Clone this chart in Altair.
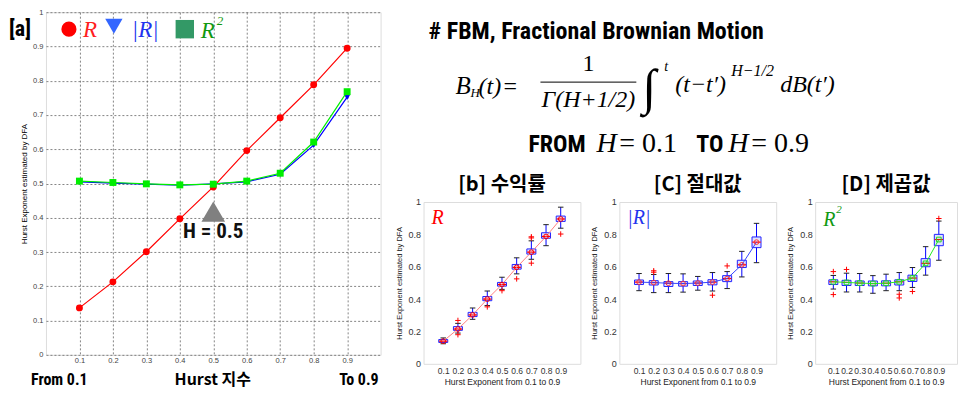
import altair as alt
import pandas as pd

# ---------------- data ----------------
H = [0.1, 0.2, 0.3, 0.4, 0.5, 0.6, 0.7, 0.8, 0.9]
Y_TICKS_MAIN = [0, 0.1, 0.2, 0.3, 0.4, 0.5, 0.6, 0.7, 0.8, 0.9, 1]
Y_TICKS_SMALL = [0, 0.2, 0.4, 0.6, 0.8, 1]

# panel [a]: mean DFA estimate per series
R_MEAN = [0.137, 0.213, 0.301, 0.397, 0.490, 0.596, 0.692, 0.788, 0.895]
ABS_MEAN = [0.505, 0.501, 0.498, 0.495, 0.499, 0.505, 0.527, 0.612, 0.752]
SQ_MEAN = [0.507, 0.503, 0.499, 0.496, 0.498, 0.507, 0.530, 0.621, 0.768]
ANNOT_H = [0.5]
ANNOT_TRI_Y = [0.418]
ANNOT_TXT_Y = [0.359]

# panel [b] returns R
B_LO = [0.124, 0.190, 0.275, 0.360, 0.460, 0.556, 0.646, 0.730, 0.838]
B_Q1 = [0.132, 0.207, 0.292, 0.390, 0.480, 0.585, 0.678, 0.776, 0.880]
B_MED = [0.140, 0.215, 0.302, 0.400, 0.490, 0.596, 0.690, 0.787, 0.895]
B_Q3 = [0.150, 0.230, 0.318, 0.416, 0.503, 0.614, 0.710, 0.810, 0.913]
B_HI = [0.160, 0.250, 0.345, 0.450, 0.535, 0.655, 0.760, 0.860, 0.968]
B_OUT_H = [0.2, 0.2, 0.4, 0.5, 0.6, 0.7, 0.7, 0.7, 0.9]
B_OUT_V = [0.268, 0.180, 0.352, 0.452, 0.525, 0.785, 0.778, 0.622, 0.802]

# panel [c] |R|
C_LO = [0.452, 0.440, 0.440, 0.443, 0.455, 0.450, 0.465, 0.537, 0.625]
C_Q1 = [0.490, 0.487, 0.478, 0.480, 0.484, 0.488, 0.508, 0.595, 0.718]
C_MED = [0.505, 0.502, 0.498, 0.496, 0.499, 0.505, 0.527, 0.612, 0.752]
C_Q3 = [0.518, 0.514, 0.508, 0.508, 0.512, 0.520, 0.545, 0.640, 0.784]
C_HI = [0.558, 0.552, 0.558, 0.556, 0.540, 0.564, 0.570, 0.695, 0.868]
C_OUT_H = [0.2, 0.2, 0.6, 0.7]
C_OUT_V = [0.575, 0.566, 0.424, 0.605]

# panel [d] R^2
D_LO = [0.462, 0.444, 0.444, 0.436, 0.452, 0.452, 0.472, 0.548, 0.640]
D_Q1 = [0.490, 0.484, 0.484, 0.482, 0.482, 0.487, 0.509, 0.600, 0.730]
D_MED = [0.507, 0.503, 0.499, 0.496, 0.498, 0.507, 0.530, 0.621, 0.768]
D_Q3 = [0.519, 0.516, 0.512, 0.512, 0.513, 0.519, 0.548, 0.650, 0.800]
D_HI = [0.546, 0.560, 0.558, 0.545, 0.554, 0.564, 0.595, 0.724, 0.882]
D_OUT_H = [0.1, 0.1, 0.2, 0.6, 0.6, 0.7, 0.9]
D_OUT_V = [0.570, 0.428, 0.583, 0.430, 0.407, 0.447, 0.898]

# ---------------- fonts ----------------
NARROW = "Roboto Condensed, Roboto, sans-serif"
SERIF = "Liberation Serif, DejaVu Serif, serif"
SANS = "Liberation Sans, Arial, sans-serif"
KR = "Noto Sans CJK KR, sans-serif"

ONE = pd.DataFrame({"k": [0]})


def txt(text, x, y, size, color="black", font=SANS, weight="normal",
        style="normal", align="left", baseline="middle"):
    return alt.Chart(ONE).mark_text(
        text=text, fontSize=size, color=color, font=font, fontWeight=weight,
        fontStyle=style, align=align, baseline=baseline
    ).encode(x=alt.value(x), y=alt.value(y))


def sym(shape, x, y, size, color):
    return alt.Chart(ONE).mark_point(
        shape=shape, size=size, filled=True, color=color, opacity=1
    ).encode(x=alt.value(x), y=alt.value(y))


# ---------------- panel [a] ----------------
xa = alt.Axis(values=H, format=".1f", title=None, grid=True, gridDash=[2, 2],
              gridColor="#666", gridWidth=0.8, gridOpacity=1, ticks=False,
              domain=False, labelFontSize=7.5, labelColor="#444",
              labelPadding=2, labelFont=SANS)
ya = alt.Axis(values=Y_TICKS_MAIN, format="~g",
              title="Hurst Exponent estimated by DFA", grid=True,
              gridDash=[2, 2], gridColor="#666", gridWidth=0.8, gridOpacity=1,
              ticks=False, domain=False, labelFontSize=7.5, labelColor="#444",
              labelPadding=3, labelFont=SANS, titleFont=SANS, titleFontSize=8,
              titleFontWeight="normal", titleColor="black", titlePadding=4)
SC = alt.Scale(domain=[0, 1], nice=False, zero=False)
XS = alt.X("H:Q", scale=SC, axis=xa)
YS = alt.Y("v:Q", scale=SC, axis=ya)


def series(vals, color, shape, size):
    df = pd.DataFrame({"H": H, "v": vals})
    base = alt.Chart(df)
    line = base.mark_line(color=color, strokeWidth=1.2).encode(x=XS, y=YS)
    pts = base.mark_point(shape=shape, filled=True, color=color, size=size,
                          opacity=1).encode(x=XS, y=YS)
    return [line, pts]


ann_df = pd.DataFrame({"H": ANNOT_H, "v": ANNOT_TRI_Y, "t": ANNOT_TXT_Y})
tri = alt.Chart(ann_df).mark_point(shape="triangle-up", size=560, filled=True,
                                   color="#808080", opacity=1).encode(x=XS, y=YS)
tri_txt = alt.Chart(ann_df).mark_text(text="H = 0.5", font=NARROW, fontSize=21,
                                      fontWeight="bold", color="#111").encode(
    x=XS, y=alt.Y("t:Q", scale=SC, axis=ya))

main_layers = (
    series(R_MEAN, "#ff0000", "circle", 48)
    + series(ABS_MEAN, "#0000ff", "triangle-down", 40)
    + series(SQ_MEAN, "#00ee00", "square", 48)
    + [tri, tri_txt,
       txt("[a]", -37, 17, 22, font=NARROW, weight="bold"),
       sym("circle", 23, 17, 230, "#ff0000"),
       txt("R", 37, 18, 23, color="#ff2020", font=SERIF, style="italic"),
       sym("triangle-down", 68, 14, 300, "#3366ff"),
       txt("|R|", 86, 18, 23, color="#2233ee", font=SERIF, style="italic"),
       sym("square", 139, 17, 340, "#339966"),
       txt("R", 155, 19, 23, color="#119911", font=SERIF, style="italic"),
       txt("2", 171, 9, 13, color="#119911", font=SERIF, style="italic"),
       txt("From 0.1", -15, 368, 16, font=NARROW, weight="bold"),
       txt("Hurst 지수", 167, 368, 16, font=KR, weight="bold", align="center"),
       txt("To 0.9", 333, 368, 16, font=NARROW, weight="bold", align="right")]
)
panel_a = alt.layer(*main_layers).properties(width=335, height=343)


# ---------------- small box panels ----------------
def panel(lo, q1, med, q3, hi, out_h, out_v, title, line_color, mk_shape,
          mk_color, label_layers, width):
    df = pd.DataFrame({"H": H, "lo": lo, "q1": q1, "med": med, "q3": q3, "hi": hi})
    odf = pd.DataFrame({"H": out_h, "lo": out_v})
    ax = alt.Axis(values=H, format=".1f", title="Hurst Exponent from 0.1 to 0.9",
                  grid=False, ticks=False, domain=False, labelFontSize=8.5,
                  labelColor="#333", labelFont=SANS, labelPadding=3,
                  titleFont=SANS, titleFontSize=8.5, titleFontWeight="normal",
                  titleColor="#222", titlePadding=2)
    ay = alt.Axis(values=Y_TICKS_SMALL, format="~g",
                  title="Hurst Exponent estimated by DFA", grid=False,
                  ticks=False, domain=False, labelFontSize=9, labelColor="#333",
                  labelFont=SANS, labelPadding=3, titleFont=SANS,
                  titleFontSize=7.5, titleFontWeight="normal", titleColor="#222",
                  titlePadding=5)
    x = alt.X("H:Q", scale=SC, axis=ax)

    def Y(f):
        return alt.Y(f + ":Q", scale=SC, axis=ay)

    base = alt.Chart(df)
    whisk = base.mark_rule(color="#0000ff", strokeWidth=1).encode(x=x, y=Y("lo"), y2="hi:Q")
    box = base.mark_bar(size=9, fill="#dfe2ff", stroke="#2222ff", strokeWidth=1,
                        orient="vertical").encode(x=x, y=Y("q1"), y2="q3:Q")
    cap_lo = base.mark_point(shape="M-1,0L1,0", size=30, filled=False,
                             stroke="#222", strokeWidth=1, opacity=1).encode(x=x, y=Y("lo"))
    cap_hi = base.mark_point(shape="M-1,0L1,0", size=30, filled=False,
                             stroke="#222", strokeWidth=1, opacity=1).encode(x=x, y=Y("hi"))
    med_bar = base.mark_point(shape="M-1,0L1,0", size=70, filled=False,
                              stroke="#ff0000", strokeWidth=1.2, opacity=1).encode(x=x, y=Y("med"))
    mline = base.mark_line(color=line_color, strokeWidth=1).encode(x=x, y=Y("med"))
    mk = base.mark_point(shape=mk_shape, size=22, filled=False, stroke=mk_color,
                         strokeWidth=1, opacity=1).encode(x=x, y=Y("med"))
    outl = alt.Chart(odf).mark_point(shape="M-1,0L1,0M0,-1L0,1", size=30,
                                     filled=False, stroke="#ff0000",
                                     strokeWidth=1, opacity=1).encode(x=x, y=Y("lo"))
    return alt.layer(whisk, box, cap_lo, cap_hi, med_bar, mline, mk, outl,
                     *label_layers).properties(
        width=width, height=162,
        title=alt.Title(title, font=KR, fontSize=20, fontWeight="bold",
                        color="black", anchor="middle", offset=3))


panel_b = panel(B_LO, B_Q1, B_MED, B_Q3, B_HI, B_OUT_H, B_OUT_V, "[b] 수익률",
                "#ff8080", "circle", "#ff0000",
                [txt("R", 8, 16, 20, color="#ff0000", font=SERIF, style="italic")], 157)
panel_c = panel(C_LO, C_Q1, C_MED, C_Q3, C_HI, C_OUT_H, C_OUT_V, "[C] 절대값",
                "#3344ff", "circle", "#ff3333",
                [txt("|R|", 8, 16, 20, color="#2233ee", font=SERIF, style="italic")], 157)
panel_d = panel(D_LO, D_Q1, D_MED, D_Q3, D_HI, D_OUT_H, D_OUT_V, "[D] 제곱값",
                "#22ee22", "square", "#22dd22",
                [txt("R", 8, 18, 20, color="#119911", font=SERIF, style="italic"),
                 txt("2", 21, 8, 11, color="#119911", font=SERIF, style="italic")], 142)

# ---------------- header text block ----------------
AB = "alphabetic"
header = alt.layer(
    txt("# FBM, Fractional Brownian Motion", 5, 20, 24, font=NARROW, weight="bold"),
    txt("B", 32, 82, 25, font=SERIF, style="italic", baseline=AB),
    txt("H", 47, 84.5, 13, font=SERIF, style="italic", baseline=AB),
    txt("(t)", 55, 81.5, 24, font=SERIF, style="italic", baseline=AB),
    txt("=", 80, 81.5, 24, font=SERIF, baseline=AB),
    txt("1", 165, 59, 24, font=SERIF, align="center", baseline=AB),
    alt.Chart(ONE).mark_rule(color="black", strokeWidth=1).encode(
        x=alt.value(117), x2=alt.value(213), y=alt.value(70)),
    txt("Γ(H+1/2)", 165, 94.5, 24, font=SERIF, style="italic", align="center", baseline=AB),
    txt("∫", 219, 91.5, 50, font=SERIF, baseline=AB),
    txt("t", 241, 59, 14, font=SERIF, style="italic", baseline=AB),
    txt("(t−t′)", 252, 80, 24, font=SERIF, style="italic", baseline=AB),
    txt("H−1/2", 308, 64, 16, font=SERIF, style="italic", baseline=AB),
    txt("dB(t′)", 357, 80, 24, font=SERIF, style="italic", baseline=AB),
    txt("FROM", 105, 140, 24, font=NARROW, weight="bold", baseline=AB),
    txt("H", 173, 140, 28, font=SERIF, style="italic", baseline=AB),
    txt("= 0.1", 196, 140, 28, font=SERIF, baseline=AB),
    txt("TO", 273, 140, 24, font=NARROW, weight="bold", baseline=AB),
    txt("H", 305, 140, 28, font=SERIF, style="italic", baseline=AB),
    txt("= 0.9", 328, 140, 28, font=SERIF, baseline=AB),
).properties(width=420, height=151, view=alt.ViewBackground(stroke="transparent"))

right = alt.vconcat(header, alt.hconcat(panel_b, panel_c, panel_d, spacing=8),
                    spacing=10)

chart = alt.hconcat(panel_a, right, spacing=12).properties(
    padding={"top": -1, "left": 0, "right": 0, "bottom": 0}
).configure_view(stroke="#333", strokeWidth=1).configure(background="white")

chart.save("out.html", embed_options={"renderer": "svg", "actions": False})
